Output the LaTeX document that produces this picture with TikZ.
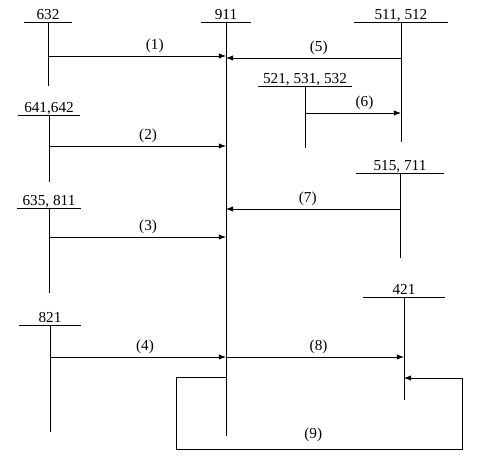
\documentclass[tikz,border=0pt]{standalone}
\usepackage{fontspec}
\setmainfont{Liberation Serif}
\usetikzlibrary{arrows.meta,positioning}
\tikzset{%
	acct/.style={font=\fontsize{13}{15}\selectfont, anchor=south, inner xsep=0pt, inner ysep=1.7pt, text depth=0pt},
	tline/.style={draw, line width=0.7pt},
	pt/.style={draw, line width=0.7pt, -{Latex[length=6pt,width=4.5pt]}},
	num/.style={font=\fontsize{13}{15}\selectfont, above, inner sep=2.5pt}
}
\begin{document}
\begin{tikzpicture}[x=0.03cm, y=-0.03cm]
		\useasboundingbox (0,0) rectangle (492,466);
		% accounts
		\node[acct, minimum width=1.41cm] (a632) at (48,22) {632};
		\node[acct, minimum width=1.5cm] (a911) at (226,22) {911};
		\node[acct, minimum width=2.79cm] (a511) at (401,22) {511, 512};
		\node[acct, minimum width=1.83cm] (a641) at (49,115) {641,642};
		\node[acct, minimum width=2.79cm] (a521) at (305,86) {521, 531, 532};
		\node[acct, minimum width=2.61cm] (a515) at (400,173) {515, 711};
		\node[acct, minimum width=1.89cm] (a635) at (49,208) {635, 811};
		\node[acct, minimum width=1.86cm] (a821) at (50,325) {821};
		\node[acct, minimum width=2.43cm] (a421) at (404,297) {421};
		
		\coordinate (e632) at (48,86);
		\coordinate (e911) at (226,436);
		\coordinate (e511) at (401,142);
		\coordinate (e641) at (49,182);
		\coordinate (e521) at (305,148);
		\coordinate (e515) at (400,258);
		\coordinate (e635) at (49,293);
		\coordinate (e821) at (50,432);
		\coordinate (e421) at (404,400);
		
		\foreach \n in {632,911,511,641,521,515,635,821,421}
			\draw[tline] (a\n.south west) -- (a\n.south east) (a\n.south) -- (e\n);
		
		% entries
		\draw[pt] (a632 |- 0,56) 	--  node [num, pos=0.6] 	{(1)} (a911 |- 0,56);
		\draw[pt] (a511 |- 0,58) 	--  node [num, pos=0.47] 	{(5)} (a911 |- 0,58);
		\draw[pt] (a521 |- 0,113) 	--  node [num, pos=0.62] 	{(6)} (a511 |- 0,113);
		\draw[pt] (a641 |- 0,146) 	--  node [num, pos=0.56] 	{(2)} (a911 |- 0,146);
		\draw[pt] (a515 |- 0,209) 	--  node [num, pos=0.53] 	{(7)} (a911 |- 0,209);
		\draw[pt] (a635 |- 0,237) 	--  node [num, pos=0.56] 	{(3)} (a911 |- 0,237);
		\draw[pt] (a821 |- 0,357) 	--  node [num, pos=0.54] 	{(4)} (a911 |- 0,357);
		\draw[pt] (a911 |- 0,357) 	--  node [num, pos=0.52] 	{(8)} (a421 |- 0,357);
		
		\draw[pt] (a911 |- 0,377) -- (176,377) -- (176,449)
			-- node [num, pos=0.48, inner sep=6pt] {(9)} (462,449) -- (462,378) -- (a421 |- 0,378);
	\end{tikzpicture}
\end{document}
